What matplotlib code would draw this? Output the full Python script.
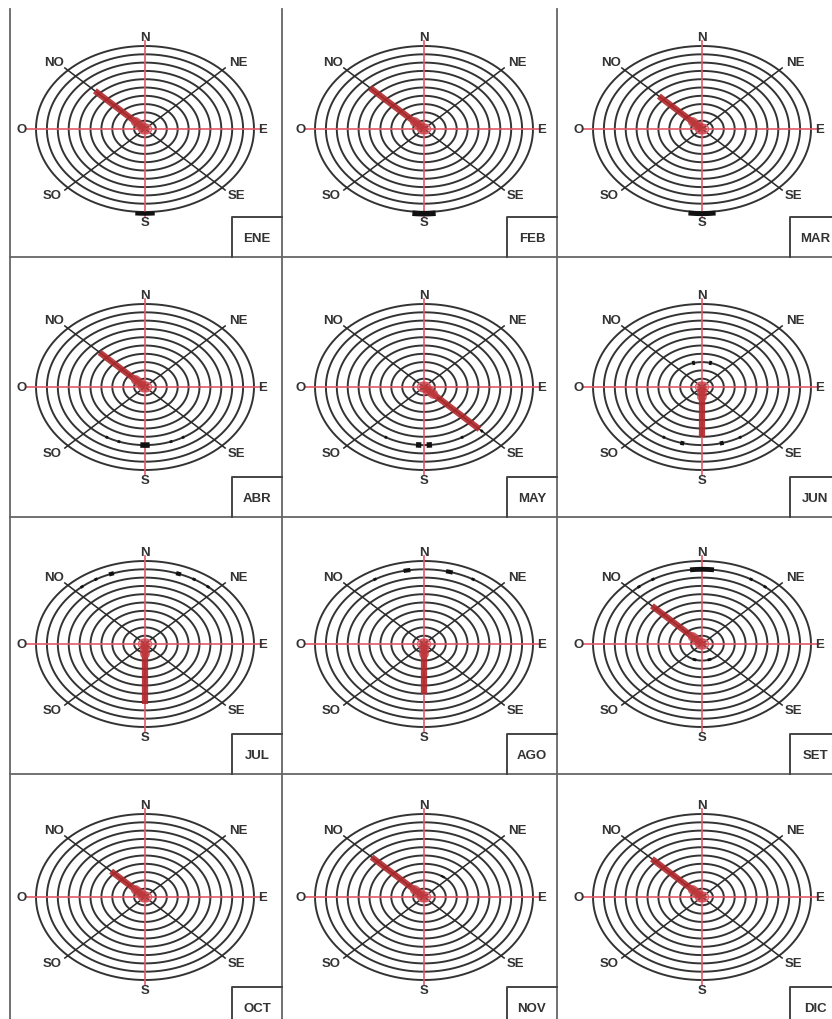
import numpy as np
import matplotlib
matplotlib.use('Agg')
import matplotlib.pyplot as plt

plt.rcParams['font.family'] = ['Liberation Sans', 'DejaVu Sans']

# datos: dirección predominante del viento y su frecuencia (en anillos) por mes
months = ['ENE', 'FEB', 'MAR', 'ABR', 'MAY', 'JUN',
          'JUL', 'AGO', 'SET', 'OCT', 'NOV', 'DIC']
directions = ['NO', 'NO', 'NO', 'NO', 'SE', 'S',
              'S', 'S', 'NO', 'NO', 'NO', 'NO']
lengths = [6.5, 7.0, 5.6, 5.9, 7.2, 6.0, 7.2, 6.0, 6.5, 4.4, 6.8, 6.5]

# marcas secundarias (ángulo, anillo, amplitud en grados, grosor)
marks = [
    [(-90, 10.2, 10, 3.0)],
    [(-90, 10.2, 12, 4.0)],
    [(-90, 10.2, 14, 3.5)],
    [(-90, 7, 7, 4.0), (-60, 7, 2, 2), (-70, 7, 2, 2), (-110, 7, 2, 2), (-120, 7, 2, 2)],
    [(-86, 7, 4, 4.0), (-94, 7, 4, 4.0), (-60, 7, 2, 2), (-120, 7, 2, 2), (-45, 7.5, 2, 2)],
    [(-75, 7, 3, 3), (-105, 7, 3, 3), (-60, 7, 2, 2), (-120, 7, 2, 2), (75, 3, 5, 3), (105, 3, 5, 3)],
    [(70, 9, 3, 3), (110, 9, 3, 3), (60, 9, 2, 2), (120, 9, 2, 2), (130, 9, 2, 2), (50, 9, 2, 2)],
    [(75, 9, 4, 3), (100, 9, 4, 3), (60, 9, 2, 2), (120, 9, 2, 2)],
    [(90, 9, 14, 3.5), (60, 9, 2, 2), (120, 9, 2, 2), (130, 9, 2, 2), (50, 9, 2, 2),
     (-70, 2, 10, 2), (-110, 2, 10, 2)],
    [],
    [(55, 3, 8, 1.5)],
    [],
]

angles = {'N': 90, 'NE': 45, 'E': 0, 'SE': -45, 'S': -90, 'SO': -135, 'O': 180, 'NO': 135}

W, H = 832, 1020
centers_x = [145, 424, 702]
centers_y = [130, 388, 645, 898]
col_right = [282, 557, 840]
row_bottom = [258, 518, 775, 1028]
rx, ry = 10.9, 8.3   # px por anillo

fig = plt.figure(figsize=(W / 100, H / 100), dpi=100)
bg = fig.add_axes([0, 0, 1, 1])
bg.set_xlim(0, W)
bg.set_ylim(H, 0)
bg.axis('off')

# líneas de la cuadrícula
for x in [10, 282, 557]:
    bg.plot([x, x], [10, H], color='#666666', lw=1.3)
for y in [258, 518, 775]:
    bg.plot([10, W], [y, y], color='#666666', lw=1.3)

txt = dict(fontsize=9.5, fontweight='bold', color='#333333', ha='center', va='center')

for i, m in enumerate(months):
    r, c = divmod(i, 3)
    cx, cy = centers_x[c], centers_y[r]

    # recuadro del mes
    bl, bt = col_right[c] - 50, row_bottom[r] - 40
    bg.plot([bl, bl, col_right[c]], [row_bottom[r], bt, bt], color='#444444', lw=1.4)
    bg.text(bl + 25, bt + 21, m, **txt)

    ax = fig.add_axes([(cx - 130) / W, 1 - (cy + 108) / H, 260 / W, 216 / H])
    ax.set_xlim(-130 / rx, 130 / rx)
    ax.set_ylim(-108 / ry, 108 / ry)
    ax.axis('off')

    t = np.linspace(0, 2 * np.pi, 361)
    for k in range(1, 11):
        ax.plot(k * np.cos(t), k * np.sin(t), color='#333333', lw=1.4, zorder=1)
    for a in [45, 135, 225, 315]:
        ar = np.radians(a)
        ax.plot([0, 10.4 * np.cos(ar)], [0, 10.4 * np.sin(ar)], color='#2a2a2a', lw=1.1, zorder=1)
    ax.plot([0, 0], [-10.6, 10.6], color='#e05a68', lw=1.2, zorder=2)
    ax.plot([-10.9, 10.7], [0, 0], color='#e05a68', lw=1.2, zorder=2)
    ax.plot(0.6 * np.cos(t), 0.6 * np.sin(t), color='#e05a68', lw=1.0, zorder=2)

    # marcas secundarias
    for ang, ring, span, lw in marks[i]:
        tt = np.radians(np.linspace(ang - span / 2, ang + span / 2, 20))
        ax.plot(ring * np.cos(tt), ring * np.sin(tt), color='#111111', lw=lw,
                solid_capstyle='butt', zorder=3)

    # barra de dirección predominante
    a = np.radians(angles[directions[i]])
    L = lengths[i]
    ax.plot([0, L * np.cos(a)], [0, L * np.sin(a)], color='#b0282c', lw=4.5,
            alpha=0.9, solid_capstyle='butt', zorder=4)
    ax.plot([0, 1.2 * np.cos(a)], [0, 1.2 * np.sin(a)], color='#c03a3e', lw=7,
            alpha=0.8, solid_capstyle='round', zorder=4)

    # etiquetas de dirección
    ax.text(0, 11.1, 'N', clip_on=False, **txt)
    ax.text(0, -11.2, 'S', clip_on=False, **txt)
    ax.text(-11.3, 0, 'O', clip_on=False, **txt)
    ax.text(10.8, 0, 'E', clip_on=False, **txt)
    ax.text(-8.3, 8.1, 'NO', clip_on=False, **txt)
    ax.text(8.6, 8.1, 'NE', clip_on=False, **txt)
    ax.text(-8.5, -8.0, 'SO', clip_on=False, **txt)
    ax.text(8.4, -8.0, 'SE', clip_on=False, **txt)

fig.savefig('out.png', dpi=100)
